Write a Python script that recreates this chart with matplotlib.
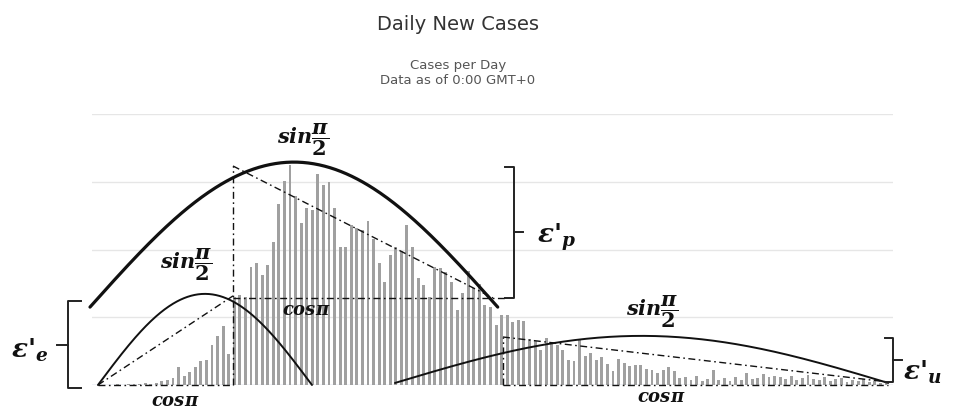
import matplotlib
matplotlib.use("Agg")
import matplotlib.pyplot as plt
import numpy as np

# daily new cases, one bar per day
new_cases = [
    0, 0, 0, 30, 0, 30, 30, 30, 60, 30,
    60, 120, 150, 205, 530, 265, 385, 530, 710, 740,
    1180, 1445, 1740, 915, 2600, 2655, 2600, 3485, 3600, 3245,
    3540, 4220, 5345, 6020, 6495, 5580, 4780, 5225, 5165, 6230,
    5905, 5990, 5225, 4075, 4075, 4725, 4635, 4575, 4840, 4310,
    3600, 3040, 3840, 4075, 3955, 4725, 4075, 3160, 2950, 2600,
    3485, 3455, 3335, 3040, 2215, 2715, 3365, 2865, 2980, 2360,
    2300, 1770, 2065, 2065, 1860, 1920, 1890, 1360, 1300, 1035,
    1385, 1270, 1180, 1035, 740, 710, 1330, 855, 945, 740,
    825, 620, 415, 770, 650, 560, 590, 590, 470, 445,
    355, 445, 530, 415, 205, 235, 150, 265, 120, 175,
    445, 150, 205, 120, 235, 150, 355, 175, 205, 325,
    235, 265, 235, 175, 265, 150, 205, 295, 175, 150,
    235, 120, 175, 205, 90, 150, 120, 175, 90, 120,
    60, 90,
]
grid_levels = [0, 2000, 4000, 6000, 8000]

# wave envelopes: (start day, end day, base, crest)
wave_p = (-1.9, 71.3, 2300, 6580)
wave_e = (-0.47, 37.95, 0, 2690)
wave_u = (52.85, 141.4, 60, 1450)

# guide triangles (day, cases)
tri_e = [(-0.47, 0), (23.77, 2630)]
tri_p_top = (23.77, 6465)
tri_p_end = (70.45, 2570)
tri_u_top = (72.24, 1417)
tri_u_end = (141.4, 89)

# brackets: (day, low, high, hook, tick)
brace_p = (74.2, 2570, 6435, -1.6, 1.6)
brace_u = (142.3, 89, 1387, -1.5, 1.6)
brace_e = (-5.85, -89, 2480, 2.3, -2.0)

# label anchors (day, cases)
sin_pos = [(36.4, 7262), (15.3, 3572), (99.0, 2184)]
cos_pos = [(36.9, 2244), (13.4, -443), (100.6, -325)]
eps_labels = [("p", (81.9, 4399)), ("u", (147.6, 413)), ("e", (-12.7, 1063))]

plt.rcParams['mathtext.fontset'] = 'custom'
plt.rcParams['mathtext.rm'] = 'DejaVu Serif:bold'
plt.rcParams['mathtext.it'] = 'DejaVu Serif:bold:italic'
plt.rcParams['mathtext.bf'] = 'DejaVu Serif:bold'

ink = '#111111'
dashdot = (0, (5, 2.5, 1.2, 2.5))


def wave(ax, spec, lw):
    start, end, base, crest = spec
    t = np.linspace(start, end, 300)
    y = base + (crest - base) * np.sin(np.pi * (t - start) / (end - start))
    ax.plot(t, y, color=ink, lw=lw, clip_on=False, zorder=4, solid_capstyle='round')


def guide(ax, xs, ys):
    ax.plot(xs, ys, color=ink, lw=1.0, ls=dashdot, clip_on=False, zorder=3)


def bracket(ax, spec):
    x, lo, hi, hook, tick = spec
    mid = (lo + hi) / 2
    ax.plot([x + hook, x, x, x + hook], [hi, hi, lo, lo], color='#222222', lw=1.4,
            clip_on=False, zorder=4, solid_joinstyle='round')
    ax.plot([x, x + tick], [mid, mid], color='#222222', lw=1.4, clip_on=False, zorder=4)


fig = plt.figure(figsize=(9.54, 4.10), dpi=100)
ax = fig.add_axes([92 / 954, 24 / 410, 801 / 954, 271 / 410])

days = np.arange(len(new_cases))
ax.bar(days, new_cases, width=0.52, color='#a0a0a0', zorder=2)

ax.set_xlim(-1.54, 142.26)
ax.set_ylim(0, 8000)
ax.set_yticks(grid_levels)
ax.yaxis.grid(True, color='#e6e6e6', lw=1)
ax.set_axisbelow(True)
ax.tick_params(left=False, bottom=False, labelleft=False, labelbottom=False)
for s in ax.spines.values():
    s.set_visible(False)
ax.axhline(0, color='#ccd6eb', lw=1, zorder=1)

# sine envelopes
wave(ax, wave_p, 2.3)
wave(ax, wave_e, 1.4)
wave(ax, wave_u, 1.4)

# left triangle
guide(ax, [tri_e[0][0], tri_e[1][0]], [tri_e[0][1], tri_e[1][1]])
guide(ax, [tri_e[0][0], tri_e[1][0]], [0, 0])
# peak triangle
guide(ax, [tri_p_top[0], tri_p_top[0]], [0, tri_p_top[1]])
guide(ax, [tri_p_top[0], tri_p_end[0]], [tri_p_top[1], tri_p_end[1]])
guide(ax, [tri_p_top[0], brace_p[0] + brace_p[3]], [tri_p_end[1], tri_p_end[1]])
# tail triangle
guide(ax, [tri_u_top[0], tri_u_top[0]], [0, tri_u_top[1]])
guide(ax, [tri_u_top[0], tri_u_end[0]], [tri_u_top[1], tri_u_end[1]])
guide(ax, [tri_u_top[0], tri_u_end[0]], [0, 0])

bracket(ax, brace_p)
bracket(ax, brace_u)
bracket(ax, brace_e)

for x, y in sin_pos:
    ax.text(x, y, r'$sin\dfrac{\pi}{2}$', fontsize=15, color=ink,
            ha='center', va='center', zorder=5)
for x, y in cos_pos:
    ax.text(x, y, r'$cos\pi$', fontsize=13, color=ink,
            ha='center', va='center', zorder=5)

for sub, (x, y) in eps_labels:
    ax.text(x, y, "\u03b5'$_{%s}$" % sub, fontsize=19, color=ink,
            family='DejaVu Serif', weight='bold', style='italic',
            ha='center', va='center')

fig.text(0.48, 1 - 25 / 410, 'Daily New Cases', fontsize=14, color='#333333',
         ha='center', va='center')
fig.text(0.48, 1 - 66 / 410, 'Cases per Day', fontsize=9.5, color='#555555',
         ha='center', va='center')
fig.text(0.48, 1 - 81 / 410, 'Data as of 0:00 GMT+0', fontsize=9.5, color='#555555',
         ha='center', va='center')

fig.savefig('out.png', dpi=100)
